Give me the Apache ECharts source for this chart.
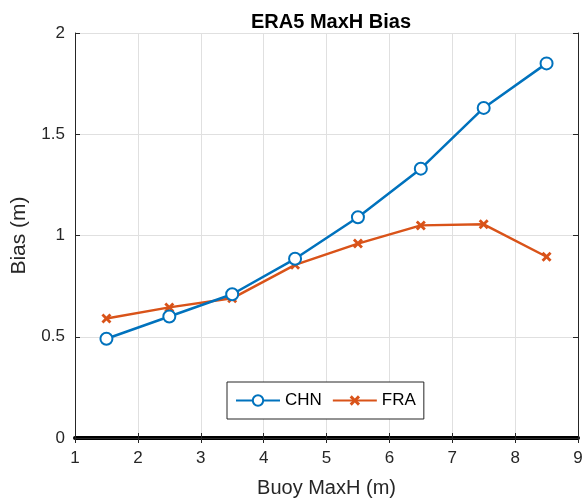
<!DOCTYPE html>
<html>
<head>
<meta charset="utf-8">
<script src="https://cdn.jsdelivr.net/npm/echarts@6/dist/echarts.min.js"></script>
<style>
  html, body { margin: 0; padding: 0; background: #fff; }
  #chart { width: 584px; height: 502px; }
</style>
</head>
<body>
<div id="chart"></div>
<script>
// Buoy MaxH bins (m) and mean bias of each model (m)
const buoyMaxH = [1.5, 2.5, 3.5, 4.5, 5.5, 6.5, 7.5, 8.5];
const chnBias = [0.49, 0.60, 0.71, 0.885, 1.09, 1.33, 1.63, 1.85];
const fraBias = [0.59, 0.645, 0.69, 0.855, 0.96, 1.05, 1.055, 0.895];
const xTicks = [1, 2, 3, 4, 5, 6, 7, 8, 9];
const yTicks = [0, 0.5, 1, 1.5, 2];

const FONT = 'Liberation Sans, Arial, Helvetica, sans-serif';
const TXT = '#262626';
const crossPath = 'path://M0,2L2,0L5,3L8,0L10,2L7,5L10,8L8,10L5,7L2,10L0,8L3,5Z';

const chart = echarts.init(document.getElementById('chart'));
chart.setOption({
  animation: false,
  title: {
    text: 'ERA5 MaxH Bias',
    left: 326, top: 7, textAlign: 'center',
    textStyle: { fontFamily: FONT, fontSize: 20, fontWeight: 'bold', color: '#000' }
  },
  grid: { left: 75, right: 6, top: 33, bottom: 64, containLabel: false, outerBoundsMode: 'none' },
  legend: {
    data: ['CHN', 'FRA'],
    left: 227, top: 382,
    padding: [10, 8, 10, 8],
    itemWidth: 44, itemHeight: 13, itemGap: 10,
    borderColor: '#262626', borderWidth: 1, backgroundColor: '#fff',
    textStyle: { fontFamily: FONT, fontSize: 17, color: '#000' }
  },
  xAxis: [{
    type: 'value', min: 1, max: 9, interval: 1,
    name: 'Buoy MaxH (m)', nameLocation: 'middle', nameGap: 40,
    nameTextStyle: { fontFamily: FONT, fontSize: 20, color: TXT },
    axisLine: { show: true, onZero: false, lineStyle: { color: '#000', width: 4 } },
    axisTick: { show: true, inside: true, length: 5, lineStyle: { color: TXT } },
    axisLabel: { fontFamily: FONT, fontSize: 17, color: TXT, margin: 12 },
    splitLine: { show: true, lineStyle: { color: '#e0e0e0', width: 1 } }
  }, {
    type: 'value', min: 1, max: 9, interval: 1, position: 'top',
    axisLine: { show: true, lineStyle: { color: TXT, width: 1 } },
    axisTick: { show: true, inside: true, length: 5, lineStyle: { color: TXT } },
    axisLabel: { show: false }, splitLine: { show: false }
  }],
  yAxis: [{
    type: 'value', min: 0, max: 2, interval: 0.5,
    name: 'Bias (m)', nameLocation: 'middle', nameGap: 45,
    nameTextStyle: { fontFamily: FONT, fontSize: 21, color: TXT },
    axisLine: { show: true, lineStyle: { color: TXT, width: 1 } },
    axisTick: { show: true, inside: true, length: 5, lineStyle: { color: TXT } },
    axisLabel: { fontFamily: FONT, fontSize: 17, color: TXT, margin: 10 },
    splitLine: { show: true, lineStyle: { color: '#e0e0e0', width: 1 } }
  }, {
    type: 'value', min: 0, max: 2, interval: 0.5, position: 'right',
    axisLine: { show: true, lineStyle: { color: TXT, width: 1 } },
    axisTick: { show: true, inside: true, length: 5, lineStyle: { color: TXT } },
    axisLabel: { show: false }, splitLine: { show: false }
  }],
  series: [{
    name: 'CHN', type: 'line',
    data: buoyMaxH.map((x, i) => [x, chnBias[i]]),
    symbol: 'emptyCircle', symbolSize: 12,
    lineStyle: { color: '#0072BD', width: 2.5 },
    itemStyle: { color: '#0072BD', borderColor: '#0072BD', borderWidth: 2.5 },
    z: 3
  }, {
    name: 'FRA', type: 'line',
    data: buoyMaxH.map((x, i) => [x, fraBias[i]]),
    symbol: crossPath, symbolSize: 10,
    lineStyle: { color: '#D95319', width: 2.5 },
    itemStyle: { color: '#D95319' },
    z: 2
  }]
});
</script>
</body>
</html>
